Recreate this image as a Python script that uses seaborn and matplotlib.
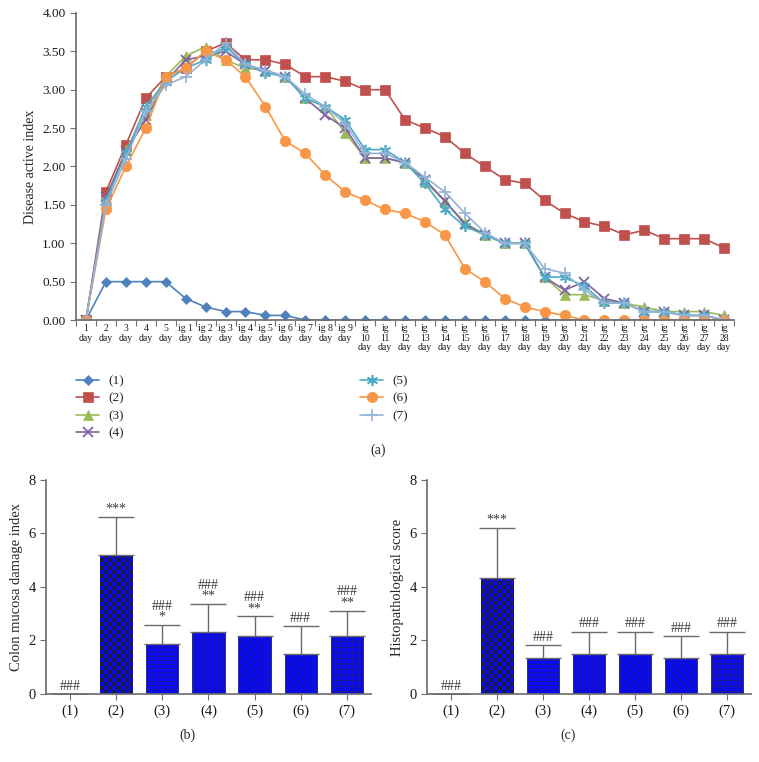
import numpy as np
import pandas as pd
import matplotlib
matplotlib.use("Agg")
import matplotlib.pyplot as plt
import seaborn as sns

# ---- data -------------------------------------------------------------
DAY_LABELS = ([f"{d}\nday" for d in range(1, 6)]
              + [f"ig {d}\nday" for d in range(1, 10)]
              + [f"ig\n{d}\nday" for d in range(10, 29)])

GROUPS = ["(1)", "(2)", "(3)", "(4)", "(5)", "(6)", "(7)"]

dai_1 = [0, 0.50, 0.50, 0.50, 0.50, 0.28, 0.17, 0.11, 0.11, 0.06, 0.06, 0, 0, 0, 0, 0, 0,
         0, 0, 0, 0, 0, 0, 0, 0, 0, 0, 0, 0, 0, 0, 0, 0]
dai_2 = [0, 1.67, 2.28, 2.89, 3.17, 3.28, 3.50, 3.61, 3.39, 3.39, 3.33, 3.17, 3.17, 3.11,
         3.00, 3.00, 2.61, 2.50, 2.39, 2.17, 2.00, 1.83, 1.78, 1.56, 1.39, 1.28, 1.22,
         1.11, 1.17, 1.06, 1.06, 1.06, 0.94]
dai_3 = [0, 1.55, 2.22, 2.67, 3.17, 3.44, 3.56, 3.39, 3.28, 3.25, 3.17, 2.89, 2.78, 2.44,
         2.11, 2.11, 2.05, 1.80, 1.55, 1.27, 1.11, 1.00, 1.00, 0.56, 0.33, 0.33, 0.25,
         0.22, 0.17, 0.11, 0.11, 0.11, 0.06]
dai_4 = [0, 1.60, 2.20, 2.61, 3.11, 3.39, 3.44, 3.50, 3.33, 3.25, 3.17, 2.89, 2.67, 2.50,
         2.11, 2.11, 2.05, 1.83, 1.55, 1.25, 1.11, 1.00, 1.00, 0.56, 0.39, 0.50, 0.28,
         0.22, 0.11, 0.11, 0.06, 0.06, 0]
dai_5 = [0, 1.55, 2.17, 2.78, 3.11, 3.28, 3.39, 3.56, 3.33, 3.22, 3.17, 2.89, 2.78, 2.61,
         2.22, 2.22, 2.05, 1.78, 1.44, 1.22, 1.11, 1.00, 1.00, 0.56, 0.56, 0.44, 0.22,
         0.22, 0.11, 0.11, 0.06, 0.06, 0]
dai_6 = [0, 1.44, 2.00, 2.50, 3.17, 3.28, 3.50, 3.39, 3.17, 2.78, 2.33, 2.17, 1.89, 1.67,
         1.56, 1.44, 1.39, 1.28, 1.11, 0.67, 0.50, 0.28, 0.17, 0.11, 0.06, 0, 0, 0, 0,
         0, 0, 0, 0]
dai_7 = [0, 1.50, 2.10, 2.72, 3.06, 3.17, 3.39, 3.61, 3.33, 3.25, 3.17, 2.94, 2.78, 2.56,
         2.17, 2.17, 2.05, 1.86, 1.67, 1.39, 1.14, 1.00, 1.00, 0.67, 0.61, 0.39, 0.22,
         0.22, 0.11, 0.11, 0.06, 0.06, 0]

cmdi_mean = [0, 5.20, 1.87, 2.33, 2.17, 1.50, 2.18]
cmdi_sd = [0, 1.43, 0.71, 1.03, 0.73, 1.04, 0.94]
cmdi_marks = ["###", "***", "###\n*", "###\n**", "###\n**", "###", "###\n**"]

hist_mean = [0, 4.35, 1.33, 1.50, 1.50, 1.33, 1.50]
hist_sd = [0, 1.85, 0.50, 0.83, 0.83, 0.82, 0.83]
hist_marks = ["###", "***", "###", "###", "###", "###", "###"]

# ---- style ------------------------------------------------------------
sns.set_theme(style="ticks")
plt.rcParams["font.family"] = ["Liberation Serif", "DejaVu Serif"]
plt.rcParams["axes.edgecolor"] = "#6e6e6e"
plt.rcParams["xtick.color"] = "#6e6e6e"
plt.rcParams["ytick.color"] = "#6e6e6e"
plt.rcParams["xtick.labelcolor"] = "#1a1a1a"
plt.rcParams["ytick.labelcolor"] = "#1a1a1a"
plt.rcParams["hatch.linewidth"] = 0.6

LINE_STYLE = {
    "(1)": dict(color="#4F81BD", marker="D", ms=5.5),
    "(2)": dict(color="#C0504D", marker="s", ms=7),
    "(3)": dict(color="#9BBB59", marker="^", ms=7),
    "(4)": dict(color="#8064A2", marker="x", ms=7, mew=1.3),
    "(5)": dict(color="#4BACC6", marker=(6, 2, 0), ms=8, mew=1.2),
    "(6)": dict(color="#F79646", marker="o", ms=7.5),
    "(7)": dict(color="#95B3D7", marker="+", ms=8, mew=1.2),
}

fig = plt.figure(figsize=(7.59, 7.62), dpi=100)

# ---- (a) disease activity index --------------------------------------
ax = fig.add_axes([0.1001, 0.580, 0.867, 0.403])
series = [dai_1, dai_2, dai_3, dai_4, dai_5, dai_6, dai_7]
xs = np.arange(len(DAY_LABELS))
for g, vals in zip(GROUPS, series):
    st = LINE_STYLE[g]
    sns.lineplot(x=xs, y=vals, ax=ax, color=st["color"], marker=st["marker"],
                 markersize=st["ms"], markeredgecolor=st["color"],
                 markeredgewidth=st.get("mew", 0.5), linewidth=1.2, label=g)

ax.set_xlim(-0.5, len(DAY_LABELS) - 0.5)
ax.set_ylim(0, 4)
ax.set_yticks(np.arange(0, 4.01, 0.5))
ax.set_yticklabels([f"{v:.2f}" for v in np.arange(0, 4.01, 0.5)], fontsize=9.5)
ax.set_xticks(xs)
ax.set_xticklabels(DAY_LABELS, fontsize=7, linespacing=1.05, va="top")
ax.set_xticks(np.arange(-0.5, len(DAY_LABELS)), minor=True)
ax.tick_params(axis="x", which="major", length=0, pad=3)
ax.tick_params(axis="x", which="minor", length=4, width=0.8, direction="out")
ax.tick_params(axis="y", length=4, width=0.8, direction="out")
ax.set_xlabel("")
ax.set_ylabel("Disease active index", fontsize=10)
sns.despine(ax=ax)

ax.legend(ncol=2, loc="upper left", bbox_to_anchor=(-0.018, -0.14), frameon=False,
          fontsize=9.5, handlelength=1.75, handletextpad=0.7, columnspacing=17.9,
          labelspacing=0.4)
fig.text(378 / 759, 1 - 450 / 762, "(a)", ha="center", va="center", fontsize=10)


# ---- bar panels -------------------------------------------------------
PX_X, PX_Y = 46.0, 26.75   # pixels per data unit in the bar panels


def bar_panel(rect, means, sds, marks, ylabel, tag, tag_x):
    bx = fig.add_axes(rect)
    sns.barplot(x=GROUPS, y=means, ax=bx, color="#0a0af0", saturation=1,
                width=0.7, edgecolor="#1e1e84", linewidth=0.6)
    hatches = ["", "", "----", "||||", "////", "\\\\\\\\", "+++"]
    bars = bx.patches[:len(GROUPS)]
    for p, h in zip(bars, hatches):
        p.set_hatch(h)
    # checkerboard fill for model group
    p = bars[1]
    x0, w, hgt = p.get_x(), p.get_width(), p.get_height()
    ncol = 8
    nrow = max(1, int(round(ncol * hgt * PX_Y / (w * PX_X))))
    board = (np.add.outer(np.arange(nrow), np.arange(ncol)) % 2).astype(float)
    cmap = matplotlib.colors.ListedColormap(["#0a0af0", "#1c1c40"])
    im = bx.imshow(board, extent=(x0, x0 + w, 0, hgt), cmap=cmap, aspect="auto",
                   interpolation="nearest", zorder=p.get_zorder() + 0.1)
    im.set_clip_path(p)

    xs_b = np.arange(len(GROUPS))
    bx.errorbar(xs_b, means, yerr=[np.zeros(len(sds)), sds], fmt="none",
                ecolor="#6a6a6a", elinewidth=1.0, capsize=13, capthick=1.0, zorder=3)
    for i, (m, s, t) in enumerate(zip(means, sds, marks)):
        bx.text(i, m + s + 0.05, t, ha="center", va="bottom", fontsize=10,
                color="#3a3a3a", linespacing=0.8)
    bx.set_xlim(-0.52, len(GROUPS) - 0.48)
    bx.set_ylim(0, 8)
    bx.set_yticks([0, 2, 4, 6, 8])
    bx.tick_params(axis="both", length=4, width=0.8, direction="out", labelsize=10.5)
    bx.set_ylabel(ylabel, fontsize=10.5)
    bx.set_xlabel("")
    sns.despine(ax=bx)
    fig.text(tag_x, 1 - 735 / 762, tag, ha="center", va="center", fontsize=10)
    return bx


bar_panel([46 / 759, 0.0892, 0.428, 0.281], cmdi_mean, cmdi_sd, cmdi_marks,
          "Colon mucosa damage index", "(b)", 187 / 759)
bar_panel([427 / 759, 0.0892, 0.427, 0.281], hist_mean, hist_sd, hist_marks,
          "Histopathological score", "(c)", 568 / 759)

fig.savefig("out.png", dpi=100)
